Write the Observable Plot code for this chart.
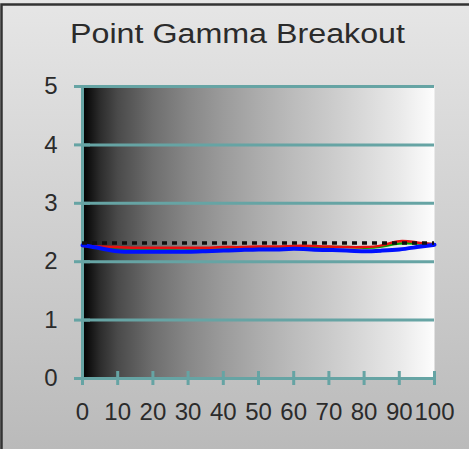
<!DOCTYPE html>
<html><head><meta charset="utf-8">
<script src="https://cdn.jsdelivr.net/npm/d3@7"></script>
<script src="https://cdn.jsdelivr.net/npm/@observablehq/plot@0.6"></script>
<style>body{margin:0;background:#fff} #chart svg{display:block}</style>
</head><body><div id="chart"></div>
<script>
const title = "Point Gamma Breakout";
const stimulus   = [0, 5, 10, 15, 20, 25, 30, 35, 40, 45, 50, 55, 60, 65, 70, 75, 80, 85, 90, 95, 100];
const gammaRed   = [2.27, 2.26, 2.25, 2.24, 2.24, 2.24, 2.24, 2.24, 2.25, 2.25, 2.26, 2.26, 2.27, 2.27, 2.26, 2.25, 2.25, 2.28, 2.35, 2.33, 2.30];
const gammaGreen = [2.28, 2.24, 2.20, 2.19, 2.19, 2.19, 2.19, 2.20, 2.21, 2.22, 2.23, 2.23, 2.25, 2.25, 2.25, 2.25, 2.24, 2.26, 2.31, 2.31, 2.30];
const gammaBlue  = [2.28, 2.23, 2.18, 2.17, 2.17, 2.17, 2.17, 2.18, 2.19, 2.20, 2.21, 2.21, 2.22, 2.21, 2.20, 2.19, 2.18, 2.19, 2.21, 2.25, 2.29];
const gammaTarget = 2.32;
const xTicks = [0, 10, 20, 30, 40, 50, 60, 70, 80, 90, 100];
const yTicks = [0, 1, 2, 3, 4, 5];

const rows = (vals) => stimulus.map((x, i) => ({x, y: vals[i]}));
const teal = "#66a4a4";
const font = "'Liberation Sans', Arial, sans-serif";

const plot = Plot.plot({
  width: 469, height: 449,
  marginLeft: 82, marginRight: 35, marginTop: 86, marginBottom: 71,
  style: {background: "linear-gradient(#e6e6e6, #bababa)", fontFamily: font, color: "#2b2b2b"},
  x: {domain: [0, 100]},
  y: {domain: [0, 5]},
  marks: [
    Plot.frame({fill: "url(#plotShade)", stroke: null}),
    Plot.gridY(yTicks, {stroke: teal, strokeOpacity: 1, strokeWidth: 3}),
    Plot.ruleX([0], {stroke: teal, strokeWidth: 3}),
    Plot.axisY(yTicks, {tickSize: 16, dx: 8, tickPadding: 17, stroke: teal, strokeWidth: 3, fill: "#2b2b2b", fontSize: 24, label: null, tickFormat: d => String(d)}),
    Plot.axisX(xTicks, {tickSize: 14, dy: -7, tickPadding: 17, stroke: teal, strokeWidth: 3, fill: "#2b2b2b", fontSize: 24, label: null, tickFormat: d => String(d)}),
    Plot.line(rows(gammaGreen), {x: "x", y: "y", stroke: "#00a800", strokeWidth: 2.5, curve: "natural"}),
    Plot.line(rows(gammaRed), {x: "x", y: "y", stroke: "#e81010", strokeWidth: 2.5, curve: "natural"}),
    Plot.line(rows(gammaBlue), {x: "x", y: "y", stroke: "#0010ff", strokeWidth: 4, curve: "natural"}),
    Plot.ruleY([gammaTarget], {stroke: "#111", strokeWidth: 3.5, strokeDasharray: "5,5"}),
    Plot.text([title], {text: d => d, frameAnchor: "top", dy: -52, dx: -21, lineAnchor: "middle", fontSize: 27, fill: "#2b2b2b", className: "chart-title"})
  ]
});

const svg = d3.select(plot);
const defs = svg.insert("defs", ":first-child");
const grad = defs.append("linearGradient").attr("id", "plotShade").attr("x1", 0).attr("x2", 1).attr("y1", 0).attr("y2", 0);
[[0, "#000"], [0.05, "#2c2c2c"], [0.1, "#4a4a4a"], [0.2, "#6e6e6e"], [0.3, "#878787"], [0.4, "#9b9b9b"],
 [0.5, "#acacac"], [0.6, "#bcbcbc"], [0.7, "#cacaca"], [0.8, "#d9d9d9"], [0.9, "#e9e9e9"], [1, "#fdfdfd"]]
  .forEach(([o, c]) => grad.append("stop").attr("offset", o).attr("stop-color", c));
svg.selectAll(".chart-title text").attr("textLength", 335).attr("lengthAdjust", "spacingAndGlyphs");
svg.append("path").attr("d", "M1.5,449V4.5H469").attr("fill", "none").attr("stroke", "#333").attr("stroke-width", 2.5);
document.getElementById("chart").appendChild(plot);
</script>
</body></html>
